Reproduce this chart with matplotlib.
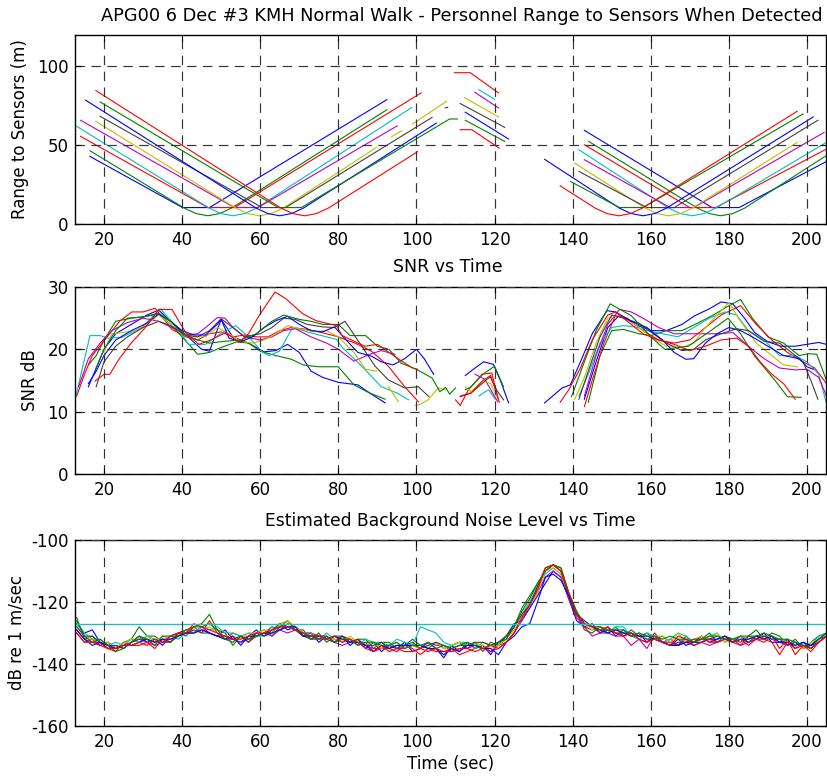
import numpy as np
import matplotlib
matplotlib.use("Agg")
import matplotlib.pyplot as plt

N = np.nan

# MATLAB-style colour order, one per sensor (10 sensors)
SENSOR_COLORS = ["#0000ff", "#008000", "#ff0000", "#00bfbf", "#bf00bf",
                 "#bfbf00", "#404040", "#0000ff", "#008000", "#ff0000"]

# ---------------- Range to sensors (m) ----------------
RANGE_T = [
    [16.4, 40.1, 47, 92.4, N, 143, 175.7, 182.6, 205],
    [16.4, 40.6, 43.6, 46.6, 49.6, 52.6, 92.4, N, 144.1, 172, 175, 177.9, 181, 184, 205],
    [14, 46.6, 53.4, 101.2, N, 109.7, 113.8, 121, N, 143, 170, 176.6, 205],
    [12.7, 47, 50, 53, 56, 59, 98.8, N, 116, 120, N, 141.6, 164.6, 167.6, 170.6, 173.6, 176.6, 205],
    [14, 53.4, 59.4, 95.1, N, 114.9, 121, N, 143, 165, 171, 204.4],
    [17.9, 53.8, 56.8, 59.8, 62.8, 65.8, 89.8, N, 93.6, 96.2, N, 99, 107.7, N, 112.3, 121, N,
     140.5, 158.6, 161.6, 164.6, 167.6, 170.6, 197.5],
    [19, 60.5, 66.5, 104, N, 107.4, 108, N, 111.2, 122.6, N, 141.6, 159, 166, 202.8],
    [15.3, 59, 62, 65, 68, 71, 105.1, N, 112.5, 123.6, N, 132.8, 152, 155, 158, 161, 164, 201.6],
    [19, 64.6, 70.5, 108.5, 110.5, N, 112.5, 122.6, N, 139.4, 152, 158, 199],
    [17.9, 65.4, 68.4, 71.4, 74.4, 77.4, 100.3, N, 111.2, 114.2, 121.2, N,
     136.8, 145.8, 148.8, 151.8, 154.8, 157.8, 197.5],
]
RANGE_M = [
    [42.8, 10.4, 10.4, 78.7, N, 59.3, 10.4, 10.4, 39.6],
    [46.4, 10, 6.6, 5.2, 6.6, 10, 72.3, N, 52.3, 10, 6.6, 5.2, 6.6, 10, 43.4],
    [55.5, 10.4, 10.4, 83, N, 95.8, 95.8, 83, N, 50.2, 10.4, 10.4, 47.5],
    [62.3, 10, 6.6, 5.2, 6.6, 10, 73.8, N, 85, 79, N, 47, 10, 6.6, 5.2, 6.6, 10, 51.7],
    [65.7, 10.4, 10.4, 62.2, N, 83.5, 73.5, N, 40.7, 10.4, 10.4, 58],
    [65, 10, 6.6, 5.2, 6.6, 10, 48.5, N, 55.3, 59, N, 63.3, 77.7, N, 80, 67.8, N,
     38.6, 10, 6.6, 5.2, 6.6, 10, 51.7],
    [68.2, 10.4, 10.4, 67.5, N, 73.6, 73.9, N, 76.3, 61.2, N, 33.3, 10.4, 10.4, 65.7],
    [78.4, 10, 6.6, 5.2, 6.6, 10, 63.9, N, 70.8, 53.8, N, 41, 10, 6.6, 5.2, 6.6, 10, 67.8],
    [77.3, 10.4, 10.4, 66.5, 66.5, N, 65.7, 52.3, N, 27, 10.4, 10.4, 69.7],
    [84.5, 10, 6.6, 5.2, 6.6, 10, 45.8, N, 59.7, 59.7, 48, N,
     24.2, 10, 6.6, 5.2, 6.6, 10, 71.4],
]

# ---------------- SNR (dB) ----------------
SNR_T = [
    [16, 18, 20, 23, 27, 31, 34, 37, 41, 45, 47, 50, 53, 57, 61, 64, 67, 70, 73, 76, 80, 85, 88, 92, N,
     143, 146, 149, 152, 156, 160, 164, 168, 171.3, 175, 178, 181, 184, 186.6, 190, 193.4, 197, 200, 203, 205],
    [16, 18, 20, 23, 27, 31, 34, 37, 40, 44, 47, 50, 54, 57, 60, 64, 68, 71, 75, 80, 84, 88, 92, N,
     144, 147, 150, 153, 157, 160, 164, 168, 172, 176, 180, 183, 186, 190, 194, 198, 200.5, 202.5, 205],
    [13, 15, 17, 20.3, 24, 27.1, 30, 33.1, 37.4, 41, 44, 47, 50, 53, 56, 59, 62, 65, 68, 72, 75.7, 80, 84.3,
     88.5, 92.8, 97, 100.5, N, 110, 111.2, 113.3, 116.8, 119.3, 121, N,
     143, 145, 148, 151, 154, 158, 162, 166, 170, 174, 178, 183, 187, 191, 195, 199, 202, 205],
    [12.7, 16.4, 19, 21.1, 24.5, 29.7, 34.4, 38.3, 41.7, 46, 50.3, 53.7, 57.2, 60.6, 62.3, 64.9, 68.3, 72.6,
     79.5, 81, 86, 91, 95, 98, N, 116, 117.6, 118.5, 120.2, N,
     141.6, 144, 147, 150, 153, 156, 159, 163, 167, 171, 175, 179, 182, 185, 189, 193, 197, 200, 203, 205],
    [13.5, 16, 19, 22, 26, 30, 34, 38, 41, 44, 47, 49, 51, 53, 56, 60, 63, 66, 69, 73, 77, 80, 84, 88, 91,
     94.5, N, 115, 117.5, 119.5, 120.8, N,
     143, 146, 149, 152, 155, 158, 162, 166, 170, 174, 178, 181, 185, 189, 193, 197, 200, 203, 205],
    [20, 22, 25, 28, 31, 34, 37, 40, 43, 46, 49, 52, 55, 58, 61, 64, 67, 70, 74, 77, 80, 84, 87, 89.8, N,
     92.8, 95.4, N, 99.7, 101, 103, 105.6, 107.5, N, 112.5, 114, 117, 119, 120.5, N,
     140.5, 143, 146, 149, 152, 156, 160, 164, 168, 171, 174, 177, 180, 183, 187, 191, 194, 197.5],
    [18, 20, 23, 26, 30, 34, 37, 41, 44, 47, 50, 53, 56, 60, 63, 66, 69, 72, 76, 79, 81.7, 86, 89.4, 92.8,
     97, 100.5, 103.2, N, 111.2, 114, 116.8, 118.9, 120.5, 122.3, N,
     141.6, 144, 147, 150, 153, 157, 160, 164, 168, 171, 174, 178, 182, 185, 189, 193, 196, 199, 201, 202.8],
    [16, 18, 20, 23, 27, 31, 34, 37, 40, 43, 46, 49, 50, 52, 55, 58, 61, 64, 67, 70, 73, 76, 79, 82, 85,
     88.5, 91, 94, 97, 100, 102, 104.4, N, 112.5, 115, 117.2, 119.7, 121.5, 123.6, N,
     132.8, 137.3, 139.4, 142, 145, 148.8, 151, 155, 159, 163, 166, 169, 171, 174, 177, 180, 183, 186,
     190, 194, 198, 200, 201.6],
    [18, 20, 23, 26, 30, 34, 37, 40, 44, 47, 51, 55, 59, 63, 66, 70, 73, 76, 80, 83, 87, 90, 93, 96, 100,
     104, 106, 107.5, 108.5, 110, N, 112.5, 114, 117, 120, 122.3, N,
     139.7, 143, 146, 149.6, 155, 160.2, 163.6, 169.6, 174.7, 179.8, 183, 186.6, 191.7, 195, 198.5],
    [17.7, 20, 21.5, 23.7, 26.7, 31, 34, 37.4, 40.9, 44.3, 47.7, 51.2, 54.6, 57, 59.7, 63.8, 66.6, 70.9,
     74.3, 79.5, 81, 86.8, 90, 93, 96, 99, 100.3, N, 111.2, 114, 117, 119, 120.5, 121.2, N,
     136.8, 139, 142, 145, 149, 151, 154, 158, 162, 166, 170, 174, 178, 182, 185, 188, 191, 194, 197],
]
SNR_DB = [
    [14, 17, 20, 22.5, 24, 25.5, 26.3, 24.5, 22.3, 20, 19.7, 24.8, 22, 21, 19.6, 19.8, 20.8, 19.5, 16.5,
     15.5, 14.7, 14.3, 13, 11.4, N,
     12, 18, 23.5, 25.5, 24, 23, 23, 24, 25.4, 26.5, 27.6, 27.3, 25, 22.7, 21.2, 20.5, 20.5, 20.8, 21.1, 20.8],
    [17.5, 19, 21.5, 24.5, 25, 25.3, 25.7, 24, 22, 19.2, 19.5, 20.3, 21.2, 21, 19.7, 19, 18.4, 17.5, 17.2,
     17.2, 14.3, 13, 12, N,
     11.5, 19, 23, 23.2, 22.5, 22.2, 23, 23, 24.2, 25.5, 27, 28, 25, 22, 21, 19, 19.3, 19.2, 15],
    [12.5, 16, 19, 21.6, 24.5, 26, 26, 26.6, 23.2, 22, 21.5, 22.5, 22.8, 22, 22.3, 22, 22, 23, 23.5, 23.2,
     22.7, 22, 21, 19.7, 17.3, 14, 11.6, N, 11.9, 11, 13.5, 16, 16.2, 11.9, N,
     10.8, 15, 21, 25.5, 25, 23, 21.5, 21, 21.5, 23.5, 25.5, 27, 24, 21.5, 19.5, 18, 17, 14.5],
    [12.2, 22.2, 22.2, 21.8, 21.9, 23.5, 26.5, 23.8, 20.8, 20.8, 22.7, 23.8, 21.9, 19.5, 19, 19.7, 23.5,
     22.7, 21.6, 20.3, 17.3, 14, 13, 11.9, N, 12.5, 13.2, 13.5, 12, N,
     12.5, 16, 21, 23.5, 23.8, 23.6, 23, 22.5, 22, 23.5, 25, 26, 25.5, 23, 21.5, 19, 19, 18, 16, 11.3],
    [14, 18.5, 21, 23, 24.3, 25, 24.5, 23.3, 22.3, 22.5, 24, 25.1, 25, 23.5, 22, 21.5, 22, 23, 23.3, 22,
     21, 20, 18.1, 19.2, 19.8, 19.2, N, 16, 15.2, 13, 11.6, N,
     12.5, 19, 24, 26.4, 26, 25, 23.5, 22.5, 22.5, 22.5, 22.5, 22.7, 20.5, 18.5, 17, 16.7, 16.8, 15.5, 12.5],
    [19.5, 22.5, 22.7, 23, 24, 25.5, 24, 22.5, 22, 22, 23.5, 22.5, 21.3, 21, 21.5, 22.5, 23.8, 23.3, 22.8,
     23, 22, 19.5, 16.8, 16.5, N, 14, 11.6, N, 11, 11.2, 11.9, 13.8, 13.5, N, 14, 13.2, 15, 14.5, 12.5, N,
     12, 15.5, 21, 25, 25.5, 24, 22, 20.5, 20.3, 21, 23.5, 25.5, 27.5, 24.5, 21, 19, 17.5, 17.2],
    [14, 18, 20.5, 22, 23.5, 24.5, 23.8, 22.3, 22, 23, 24.9, 23.5, 22, 22.5, 23.5, 25, 24.8, 24, 23.6,
     23.5, 24.5, 20.5, 17.3, 15.1, 13.8, 14, 12.4, N, 12.4, 13, 14.5, 15.6, 13.5, 11.9, N,
     12, 16.5, 22, 25.5, 25, 24.2, 22.8, 21, 19.8, 20, 21.5, 22.5, 23.3, 23, 21.3, 21, 19.5, 18, 15, 12],
    [14.5, 16.5, 19, 21.5, 23, 24.2, 25.7, 24.5, 23, 22.3, 22.3, 24, 24.8, 21.8, 21.2, 22, 23.5, 24.6,
     25.3, 24, 23, 22.8, 23.6, 21.5, 19.5, 18.9, 18, 17.5, 18.5, 20, 18.5, 16, N,
     15.8, 17, 18, 17.6, 15, 11.4, N,
     11.4, 13.8, 14.3, 18, 22.5, 26.2, 26, 24.5, 23.5, 21.5, 19.5, 18.4, 18.5, 21, 22.5, 23.5, 23, 22,
     20.5, 19, 18.5, 17.2, 16.8],
    [17, 20, 23, 25, 25.2, 25.8, 24.5, 22.5, 21.5, 21, 21.3, 21.5, 22.5, 24.5, 25.5, 24.8, 24.5, 24, 24,
     22.2, 22.2, 20.5, 20, 17.8, 16.8, 15.4, 13.2, 13.9, 12.8, 13.8, N, 13.5, 14, 16, 17.3, 14, N,
     12.4, 18, 23, 27.3, 25.4, 21.9, 20, 20.5, 22.7, 25, 22.5, 18.9, 15.1, 12.4, 12.3],
    [14.9, 16, 16, 18.3, 20.8, 23.8, 26.4, 26.4, 22.7, 20.8, 21.6, 22.7, 21.1, 22.5, 25.4, 29.2, 28.1, 25.7,
     24.6, 23.8, 22.2, 20.5, 20.8, 19.5, 18.2, 17, 16.8, N, 12.5, 13, 15, 15.8, 13, 11.5, N,
     11.5, 13.5, 17, 21.5, 25.5, 26, 24.5, 22.5, 21.5, 20.8, 19.8, 20.5, 21.5, 21.8, 20.5, 18, 16, 14.5, 12],
]

# ---------------- Background noise (dB re 1 m/sec), sampled every 2 s ----------------
NOISE_T = list(range(13, 206, 2))
NOISE_DB = [
    [-127, -130, -129, -133, -135, -134, -135, -133, -131, -133,
     -132, -134, -131, -130, -129, -130, -128, -130, -131, -129,
     -132, -133, -131, -129, -131, -130, -127, -129, -128, -131,
     -130, -133, -131, -133, -131, -134, -132, -135, -133, -136,
     -134, -135, -133, -136, -135, -133, -135, -138, -134, -136,
     -133, -135, -134, -137, -133, -131, -127, -126, -122, -118,
     -114, -110, -112, -119, -126, -128, -127, -130, -128, -131,
     -129, -131, -130, -133, -131, -133, -134, -132, -134, -133,
     -131, -133, -132, -131, -133, -131, -133, -132, -130, -133,
     -133, -132, -135, -133, -135, -133, -131],
    [-125, -132, -131, -134, -133, -135, -133, -132, -128, -131,
     -131, -133, -133, -130, -131, -128, -127, -124, -129, -130,
     -134, -131, -132, -130, -129, -131, -128, -126, -129, -129,
     -132, -130, -133, -131, -131, -133, -132, -132, -135, -133,
     -133, -135, -134, -132, -134, -135, -133, -135, -134, -133,
     -135, -133, -136, -133, -134, -131, -128, -123, -119, -114,
     -110, -108, -109, -117, -123, -129, -130, -128, -130, -128,
     -131, -129, -131, -130, -132, -131, -133, -134, -131, -133,
     -132, -130, -133, -131, -132, -133, -131, -129, -132, -130,
     -131, -134, -132, -135, -133, -131, -130],
    [-129, -132, -133, -133, -135, -136, -133, -134, -134, -133,
     -135, -132, -133, -130, -130, -128, -130, -126, -130, -132,
     -130, -131, -133, -131, -130, -128, -129, -127, -128, -130,
     -130, -131, -132, -133, -131, -132, -134, -133, -136, -135,
     -135, -136, -134, -135, -137, -135, -136, -136, -135, -137,
     -136, -135, -134, -136, -134, -133, -130, -125, -121, -116,
     -110, -108, -110, -118, -124, -128, -129, -128, -129, -130,
     -131, -130, -132, -133, -130, -133, -132, -134, -132, -133,
     -131, -133, -133, -132, -132, -134, -131, -132, -133, -131,
     -135, -132, -137, -134, -135, -133, -131],
    [-127, -130, -132, -132, -134, -133, -134, -132, -133, -131,
     -132, -133, -131, -132, -130, -130, -128, -129, -128, -130,
     -130, -131, -130, -131, -131, -128, -129, -128, -128, -130,
     -130, -132, -130, -132, -133, -132, -134, -132, -133, -133,
     -134, -132, -133, -134, -128, -129, -130, -133, -134, -133,
     -133, -135, -133, -134, -134, -132, -128, -124, -120, -115,
     -111, -109, -111, -118, -124, -127, -128, -129, -130, -128,
     -128, -131, -132, -130, -131, -133, -132, -130, -131, -134,
     -133, -131, -130, -133, -132, -131, -132, -131, -131, -132,
     -132, -133, -134, -133, -134, -131, -130],
    [-130, -133, -132, -134, -133, -135, -134, -133, -132, -133,
     -134, -133, -132, -131, -130, -130, -129, -130, -131, -132,
     -132, -133, -132, -131, -130, -131, -129, -130, -129, -131,
     -131, -132, -132, -133, -134, -133, -133, -134, -135, -135,
     -134, -135, -135, -134, -135, -133, -134, -134, -136, -135,
     -135, -134, -135, -136, -135, -133, -130, -126, -121, -117,
     -112, -110, -112, -119, -125, -128, -131, -130, -130, -131,
     -131, -134, -132, -135, -131, -133, -133, -134, -133, -134,
     -133, -134, -133, -132, -133, -134, -133, -132, -131, -132,
     -133, -134, -133, -135, -134, -133, -131],
    [-128, -131, -132, -133, -133, -135, -133, -132, -132, -131,
     -133, -131, -132, -131, -129, -130, -129, -128, -130, -131,
     -131, -132, -130, -130, -129, -130, -127, -126, -128, -130,
     -131, -131, -132, -132, -133, -131, -133, -134, -133, -135,
     -134, -133, -135, -134, -135, -134, -133, -135, -134, -133,
     -134, -133, -134, -135, -134, -132, -129, -125, -121, -117,
     -110, -109, -111, -118, -124, -127, -129, -128, -129, -129,
     -130, -131, -130, -132, -131, -131, -133, -130, -133, -132,
     -131, -132, -130, -133, -132, -131, -132, -131, -131, -132,
     -132, -133, -134, -135, -133, -132, -130],
    [-128, -131, -131, -133, -134, -134, -135, -133, -132, -132,
     -133, -132, -133, -131, -130, -129, -130, -130, -131, -131,
     -132, -131, -133, -130, -131, -129, -128, -128, -129, -131,
     -132, -131, -131, -133, -131, -133, -132, -134, -134, -133,
     -135, -134, -134, -133, -135, -134, -133, -134, -135, -134,
     -134, -133, -133, -134, -133, -131, -128, -124, -121, -115,
     -109, -108, -110, -118, -124, -127, -128, -130, -129, -130,
     -130, -131, -131, -132, -132, -133, -134, -133, -133, -132,
     -132, -132, -131, -132, -133, -132, -133, -131, -131, -132,
     -132, -134, -133, -134, -134, -132, -131],
    [-129, -132, -134, -133, -134, -135, -134, -134, -133, -132,
     -133, -132, -132, -131, -130, -130, -129, -130, -131, -132,
     -131, -134, -131, -131, -130, -130, -129, -128, -128, -131,
     -131, -131, -132, -131, -132, -133, -133, -134, -136, -134,
     -135, -134, -134, -134, -134, -135, -135, -137, -135, -136,
     -134, -134, -135, -135, -137, -133, -131, -128, -127, -120,
     -112, -111, -113, -118, -124, -126, -128, -129, -130, -129,
     -130, -130, -131, -131, -132, -133, -134, -134, -133, -133,
     -133, -132, -132, -131, -133, -132, -132, -131, -132, -131,
     -133, -133, -134, -133, -134, -132, -130],
    [-126, -131, -133, -132, -134, -136, -135, -133, -131, -132,
     -134, -131, -131, -131, -129, -128, -128, -127, -129, -132,
     -133, -131, -132, -131, -130, -129, -127, -128, -129, -130,
     -132, -132, -131, -133, -132, -132, -134, -133, -133, -134,
     -134, -133, -135, -134, -134, -133, -135, -134, -135, -134,
     -133, -134, -135, -134, -133, -132, -128, -122, -118, -114,
     -110, -108, -109, -117, -123, -127, -128, -128, -129, -129,
     -129, -131, -130, -131, -131, -132, -131, -132, -132, -133,
     -132, -131, -131, -132, -132, -131, -131, -131, -130, -131,
     -132, -132, -133, -134, -135, -132, -130],
    [-130, -133, -133, -134, -135, -135, -134, -134, -133, -134,
     -132, -133, -131, -130, -130, -127, -128, -129, -130, -131,
     -132, -132, -131, -130, -130, -129, -128, -128, -129, -130,
     -131, -131, -132, -131, -133, -132, -133, -135, -136, -134,
     -136, -135, -136, -136, -135, -136, -135, -136, -136, -135,
     -135, -136, -135, -134, -135, -133, -130, -125, -121, -116,
     -109, -108, -110, -117, -124, -127, -128, -129, -128, -130,
     -131, -130, -132, -133, -132, -133, -134, -131, -132, -134,
     -133, -132, -133, -132, -133, -132, -134, -132, -132, -133,
     -137, -133, -135, -134, -136, -133, -131],
]
NOISE_THRESHOLD = -127
THRESHOLD_COLOR = "#20c0c0"

X_TICKS = [20, 40, 60, 80, 100, 120, 140, 160, 180, 200]
XLIM = (12.7, 205)

FONT = "DejaVu Sans"
plt.rcParams["font.family"] = [FONT]
plt.rcParams["axes.unicode_minus"] = False

fig = plt.figure(figsize=(8.28, 7.80), dpi=100)
W, H = 828.0, 780.0
L, R = 75.5, 826.5


def make_ax(top, bottom):
    return fig.add_axes([L / W, 1 - bottom / H, (R - L) / W, (bottom - top) / H])


ax1 = make_ax(34.5, 224)
ax2 = make_ax(287, 474)
ax3 = make_ax(540, 726)

LW = 0.8
for i in range(10):
    ax1.plot(RANGE_T[i], RANGE_M[i], color=SENSOR_COLORS[i], lw=LW)
    ax2.plot(SNR_T[i], SNR_DB[i], color=SENSOR_COLORS[i], lw=LW)
    ax3.plot(NOISE_T, NOISE_DB[i], color=SENSOR_COLORS[i], lw=LW)
ax3.axhline(NOISE_THRESHOLD, color=THRESHOLD_COLOR, lw=1.0)

TICK_FS = 12
for ax in (ax1, ax2, ax3):
    ax.set_xlim(*XLIM)
    ax.set_xticks(X_TICKS)
    ax.grid(True, color="#333333", linestyle=(0, (8, 5.5)), linewidth=0.85)
    ax.set_axisbelow(False)
    ax.tick_params(direction="in", length=4, width=0.8, labelsize=TICK_FS,
                   top=True, right=True, pad=5)
    for s in ax.spines.values():
        s.set_linewidth(1.0)
        s.set_color("black")

ax1.set_ylim(0, 120)
ax1.set_yticks([0, 50, 100])
ax2.set_ylim(0, 30)
ax2.set_yticks([0, 10, 20, 30])
ax3.set_ylim(-160, -100)
ax3.set_yticks([-160, -140, -120, -100])

LABEL_FS = 12
ax1.set_ylabel("Range to Sensors (m)", fontsize=LABEL_FS, labelpad=6)
ax2.set_ylabel("SNR dB", fontsize=LABEL_FS, labelpad=6)
ax3.set_ylabel("dB re 1 m/sec", fontsize=LABEL_FS, labelpad=4)
ax3.set_xlabel("Time (sec)", fontsize=LABEL_FS, labelpad=3)

fig.text(462 / W, 1 - 16 / H, "APG00 6 Dec #3 KMH Normal Walk - Personnel Range to Sensors When Detected",
         ha="center", va="center", fontsize=12.8)
fig.text(448 / W, 1 - 267 / H, "SNR vs Time", ha="center", va="center", fontsize=12.5)
fig.text(450 / W, 1 - 521 / H, "Estimated Background Noise Level vs Time", ha="center", va="center",
         fontsize=12.3)

fig.savefig("out.png", dpi=100, facecolor="white")
